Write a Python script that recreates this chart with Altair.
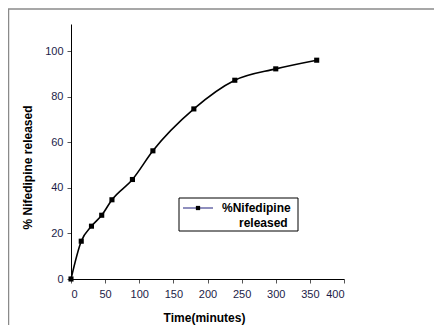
import altair as alt
import pandas as pd

time_min = [0, 15, 30, 45, 60, 90, 120, 180, 240, 300, 360]
released = [0, 16.6, 23.2, 28.0, 34.8, 43.7, 56.3, 74.7, 87.3, 92.3, 96.1]
y_ticks = [0, 20, 40, 60, 80, 100]
x_ticks = [0, 50, 100, 150, 200, 250, 300, 350, 400]
series_name = ["%Nifedipine", "released"]

df = pd.DataFrame({"t": time_min, "r": released})

W, H = 273, 255
FONT = "Liberation Sans"
LBL = "#1c1c48"

x_axis = alt.Axis(values=x_ticks, title="Time(minutes)", grid=False, labelOverlap=False,
                  domainColor="black", tickColor="#555", tickSize=4,
                  labelFont=FONT, labelFontSize=11, labelColor=LBL, labelPadding=5,
                  titleFont=FONT, titleFontSize=12, titleFontWeight="bold",
                  titleColor="black", titlePadding=13, titleX=133, titleAnchor="middle")
y_axis = alt.Axis(values=y_ticks, title="% Nifedipine released", grid=False, labelOverlap=False,
                  domainColor="black", tickColor="#555", tickSize=4,
                  labelFont=FONT, labelFontSize=11, labelColor=LBL, labelPadding=4,
                  titleFont=FONT, titleFontSize=12, titleFontWeight="bold",
                  titleColor="black", titlePadding=10, titleY=143, titleAnchor="middle")
x_enc = alt.X("t:Q", scale=alt.Scale(domain=[0, 400], nice=False), axis=x_axis)
y_enc = alt.Y("r:Q", scale=alt.Scale(domain=[0, 112], nice=False), axis=y_axis)

line = alt.Chart(df).mark_line(color="black", strokeWidth=1.6, interpolate="monotone").encode(x=x_enc, y=y_enc)
pts = alt.Chart(df).mark_point(shape="square", filled=True, color="black", size=26, opacity=1).encode(x=x_enc, y=y_enc)

leg_df = pd.DataFrame({"a": [0]})
box = alt.Chart(leg_df).mark_rect(fill="white", stroke="black", strokeWidth=1).encode(
    x=alt.value(108), x2=alt.value(227), y=alt.value(174), y2=alt.value(207))
leg_line = alt.Chart(leg_df).mark_rule(color="#6a6aa8", strokeWidth=1.5).encode(
    x=alt.value(112), x2=alt.value(142), y=alt.value(184))
leg_pt = alt.Chart(leg_df).mark_point(shape="square", filled=True, color="black", size=18, opacity=1).encode(
    x=alt.value(127), y=alt.value(184))
leg_t1 = alt.Chart(leg_df).mark_text(text=series_name[0], font=FONT, fontSize=12, fontWeight="bold",
                                     align="left", baseline="middle", color="black").encode(
    x=alt.value(151), y=alt.value(184))
leg_t2 = alt.Chart(leg_df).mark_text(text=series_name[1], font=FONT, fontSize=12, fontWeight="bold",
                                     align="left", baseline="middle", color="black").encode(
    x=alt.value(168), y=alt.value(199))

frame_top = alt.Chart(leg_df).mark_rule(color="#8a8a8a", strokeWidth=1.5).encode(
    x=alt.value(-63), x2=alt.value(W + 120), y=alt.value(-15))
frame_left = alt.Chart(leg_df).mark_rule(color="#8a8a8a", strokeWidth=1.5).encode(
    x=alt.value(-62.5), y=alt.value(-15), y2=alt.value(H + 60))

chart = alt.layer(frame_top, frame_left, line, pts, box, leg_line, leg_pt, leg_t1, leg_t2).properties(
    width=W, height=H,
    padding={"left": 63, "top": 16, "right": 90, "bottom": 46},
    autosize=alt.AutoSizeParams(type="none"),
).configure_view(stroke=None)

chart.save("out.html", embed_options={"renderer": "svg", "actions": False})
